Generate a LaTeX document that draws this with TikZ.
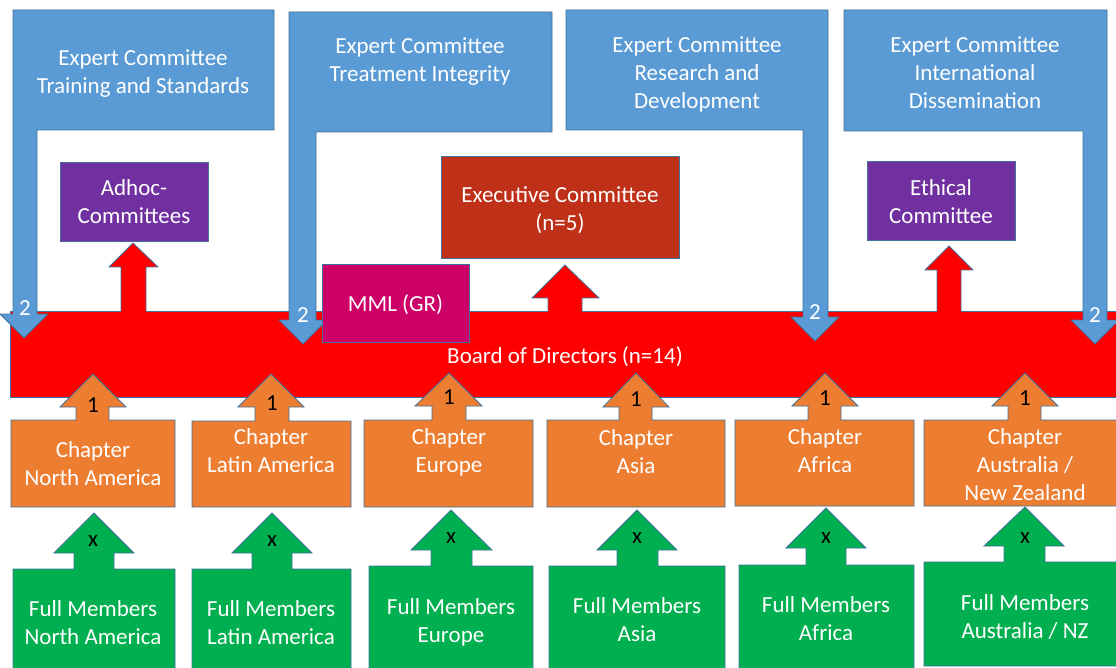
\documentclass[tikz,border=0pt]{standalone}
\usepackage{fontspec}
\setmainfont{Carlito}
\definecolor{ecblue}{HTML}{5B9BD5}
\definecolor{edge}{HTML}{41719C}
\definecolor{chor}{HTML}{ED7D31}
\definecolor{fmgreen}{HTML}{00B050}
\definecolor{purp}{HTML}{7030A0}
\definecolor{bodred}{HTML}{FF0000}
\definecolor{execred}{HTML}{BF3018}
\definecolor{mmlpink}{HTML}{CC0066}
\begin{document}
\begin{tikzpicture}[x=1pt,y=-1pt,
  outl/.style={draw=edge,line width=0.8pt,line join=miter},
  txt/.style={text=white,align=center,font=\fontsize{23}{28}\selectfont,inner sep=0pt},
  num/.style={font=\fontsize{23}{28}\selectfont,inner sep=0pt}]
\useasboundingbox (0,0) rectangle (1116,668);
\clip (0,0) rectangle (1116,668);

% Board of directors
\filldraw[outl,fill=bodred] (10,311) rectangle (1130,397);
\node[txt] (bod) at (565,357) {Board of Directors (n=14)};

% red up arrows from the board
\fill[bodred] (121,313) -- (121,267) -- (109,267) -- (133,243) -- (158,267) -- (146,267) -- (146,313) -- cycle;
\draw[outl] (121,311) -- (121,267) -- (109,267) -- (133,243) -- (158,267) -- (146,267) -- (146,311);
\fill[bodred] (548,313) -- (548,298) -- (532,298) -- (565,265) -- (599,298) -- (582,298) -- (582,313) -- cycle;
\draw[outl] (548,311) -- (548,298) -- (532,298) -- (565,265) -- (599,298) -- (582,298) -- (582,311);
\fill[bodred] (937,313) -- (937,270) -- (925,270) -- (949,246) -- (973,270) -- (961,270) -- (961,313) -- cycle;
\draw[outl] (937,311) -- (937,270) -- (925,270) -- (949,246) -- (973,270) -- (961,270) -- (961,311);

% committees above the board
\node[outl,txt,fill=purp,minimum width=148pt,minimum height=79pt] (adhoc) at (134,201.5) {Adhoc-\\Committees};
\node[outl,txt,fill=execred,minimum width=238pt,minimum height=102pt] (exec) at (560,207) {};
\node[txt] (exectext) at (560,210) {Executive Committee\\(n=5)};
\node[outl,txt,fill=purp,minimum width=148pt,minimum height=79pt] (ethic) at (941,200.5) {};
\node[txt] (ethictext) at (941,201.5) {Ethical\\Committee};

% expert committees (down-arrow callouts)
\filldraw[outl,fill=ecblue] (13,10) -- (274,10) -- (274,130) -- (37,130) -- (37,314) -- (48,314) -- (24,338) -- (0,314) -- (13,314) -- cycle;
\filldraw[outl,fill=ecblue] (289,12) -- (552,12) -- (552,132) -- (316,132) -- (316,320) -- (327,320) -- (303,344) -- (279,320) -- (289,320) -- cycle;
\filldraw[outl,fill=ecblue] (566,10) -- (828,10) -- (828,317) -- (839,317) -- (815,341) -- (791,317) -- (803,317) -- (803,130) -- (566,130) -- cycle;
\filldraw[outl,fill=ecblue] (844,10) -- (1107,10) -- (1107,320) -- (1119,320) -- (1095,344) -- (1071,320) -- (1083,320) -- (1083,131) -- (844,131) -- cycle;
\node[txt] (ec1) at (143,74) {Expert Committee\\Training and Standards};
\node[txt] (ec2) at (420,62) {Expert Committee\\Treatment Integrity};
\node[txt] (ec3) at (697,74) {Expert Committee\\Research and\\Development};
\node[txt] (ec4) at (975,72.5) {Expert Committee\\International\\Dissemination};
\node[txt] (n2a) at (25,308) {2};
\node[txt] (n2b) at (303,315) {2};
\node[txt] (n2c) at (815,312) {2};
\node[txt] (n2d) at (1095,315) {2};

% MML
\node[outl,txt,fill=mmlpink,minimum width=147pt,minimum height=78pt] (mml) at (395.5,303) {};
\node[txt] (mmltext) at (395.5,305) {MML (GR)};

% chapters (up-arrow callouts)
\filldraw[outl,fill=chor] (11,507) -- (11,420) -- (76,420) -- (76,407) -- (60,407) -- (93,374) -- (126,407) -- (109,407) -- (109,420) -- (175,420) -- (175,507) -- cycle;
\filldraw[outl,fill=chor] (192,507) -- (192,421) -- (255,421) -- (255,407) -- (238,407) -- (271,374) -- (304,407) -- (289,407) -- (289,421) -- (351,421) -- (351,507) -- cycle;
\filldraw[outl,fill=chor] (364,507) -- (364,420) -- (432,420) -- (432,406) -- (415,406) -- (449,373) -- (482,406) -- (466,406) -- (466,420) -- (533,420) -- (533,507) -- cycle;
\filldraw[outl,fill=chor] (547,507) -- (547,420) -- (619,420) -- (619,407) -- (603,407) -- (636,373) -- (669,407) -- (652,407) -- (652,420) -- (725,420) -- (725,507) -- cycle;
\filldraw[outl,fill=chor] (735,506) -- (735,420) -- (808,420) -- (808,406) -- (792,406) -- (825,373) -- (858,406) -- (841,406) -- (841,420) -- (914,420) -- (914,506) -- cycle;
\filldraw[outl,fill=chor] (924,506) -- (924,420) -- (1008,420) -- (1008,406) -- (992,406) -- (1025,373) -- (1058,406) -- (1041,406) -- (1041,420) -- (1130,420) -- (1130,506) -- cycle;
\node[txt] (chNA) at (93,464) {Chapter\\North America};
\node[txt] (chLA) at (271,451) {Chapter\\Latin America};
\node[txt] (chEU) at (449,452.5) {Chapter\\Europe};
\node[txt] (chAS) at (636,451.5) {Chapter\\Asia};
\node[txt] (chAF) at (825,450.5) {Chapter\\Africa};
\node[txt] (chAU) at (1025,464.5) {Chapter\\Australia /\\New Zealand};
\node[num] (o1) at (93,405) {1};
\node[num] (o2) at (272,403) {1};
\node[num] (o3) at (449,397) {1};
\node[num] (o4) at (636,399) {1};
\node[num] (o5) at (825,398) {1};
\node[num] (o6) at (1025,398) {1};

% full members (up-arrow callouts)
\filldraw[outl,fill=fmgreen] (13,690) -- (13,569) -- (74,569) -- (74,553) -- (54,553) -- (94,513) -- (134,553) -- (114,553) -- (114,569) -- (175,569) -- (175,690) -- cycle;
\filldraw[outl,fill=fmgreen] (192,690) -- (192,569) -- (252,569) -- (252,553) -- (232,553) -- (272,513) -- (312,553) -- (292,553) -- (292,569) -- (351,569) -- (351,690) -- cycle;
\filldraw[outl,fill=fmgreen] (369,690) -- (369,566) -- (431,566) -- (431,550) -- (411,550) -- (451,510) -- (492,550) -- (472,550) -- (472,566) -- (533,566) -- (533,690) -- cycle;
\filldraw[outl,fill=fmgreen] (549,690) -- (549,566) -- (617,566) -- (617,550) -- (597,550) -- (637,510) -- (677,550) -- (658,550) -- (658,566) -- (725,566) -- (725,690) -- cycle;
\filldraw[outl,fill=fmgreen] (739,690) -- (739,565) -- (806,565) -- (806,548) -- (786,548) -- (826,508) -- (866,548) -- (846,548) -- (846,565) -- (914,565) -- (914,690) -- cycle;
\filldraw[outl,fill=fmgreen] (924,666) -- (924,562) -- (1004,562) -- (1004,546) -- (984,546) -- (1025,507) -- (1064,546) -- (1045,546) -- (1045,562) -- (1130,562) -- (1130,666) -- cycle;
\node[txt] (fmNA) at (93,623) {Full Members\\North America};
\node[txt] (fmLA) at (271,623) {Full Members\\Latin America};
\node[txt] (fmEU) at (451,622) {Full Members\\Europe};
\node[txt] (fmAS) at (637,620) {Full Members\\Asia};
\node[txt] (fmAF) at (826,619) {Full Members\\Africa};
\node[txt] (fmAU) at (1025,617) {Full Members\\Australia / NZ};
\node[num] (x1) at (93,541) {x};
\node[num] (x2) at (272,541) {x};
\node[num] (x3) at (451,538) {x};
\node[num] (x4) at (637,538) {x};
\node[num] (x5) at (826,538) {x};
\node[num] (x6) at (1025,538) {x};
\end{tikzpicture}
\end{document}
